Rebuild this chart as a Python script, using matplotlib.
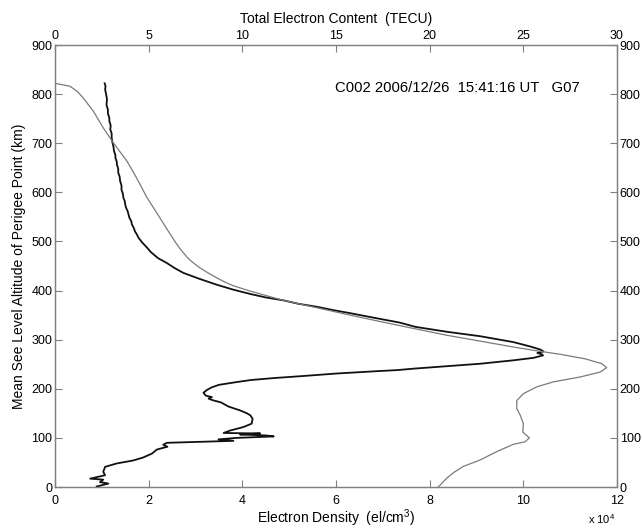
import matplotlib
matplotlib.use("Agg")
import matplotlib.pyplot as plt

plt.rcParams['font.family'] = ['Liberation Sans', 'DejaVu Sans']
plt.rcParams['mathtext.fontset'] = 'custom'
plt.rcParams['mathtext.rm'] = 'Liberation Sans'

# Electron density profile (units of 1e4 el/cm^3) vs altitude (km)
dens_alt = [822, 816, 810, 800, 790, 778, 768, 760, 752, 745, 736, 728, 720, 711, 700, 692,
            684, 676, 670, 662, 657, 648, 640, 632, 623, 614, 605, 597, 589, 582, 575,
            568, 562, 555, 548, 541, 535, 528, 520, 514, 508, 498, 488, 478, 466, 456,
            446, 436, 424, 412, 402, 393, 386, 380, 373, 367, 360, 354, 343, 335, 326,
            316, 307, 295, 286, 280, 276, 273, 270, 268, 263, 258, 251, 246, 241, 238,
            236, 231, 226, 222, 218, 214, 208, 203, 198, 192, 186, 183, 180, 177, 172,
            164, 156, 150, 146, 139, 129, 122, 115, 110, 109, 107, 105, 103, 100, 97,
            94, 90, 86, 82, 78, 76, 68, 60, 54, 48, 41, 36, 31, 24, 17, 15, 10, 7, 1]
dens_val = [1.06, 1.08, 1.07, 1.09, 1.11, 1.10, 1.13, 1.13, 1.16, 1.16, 1.19, 1.18, 1.21, 1.21, 1.23, 1.25,
            1.26, 1.29, 1.29, 1.32, 1.32, 1.35, 1.35, 1.38, 1.39, 1.42, 1.42, 1.45, 1.46, 1.49, 1.50,
            1.52, 1.55, 1.57, 1.59, 1.63, 1.64, 1.68, 1.71, 1.75, 1.78, 1.86, 1.96, 2.05, 2.20, 2.39,
            2.55, 2.74, 3.08, 3.45, 3.80, 4.17, 4.50, 4.88, 5.20, 5.59, 5.95, 6.30, 6.90, 7.35, 7.70,
            8.37, 9.08, 9.79, 10.15, 10.36, 10.43, 10.30, 10.40, 10.42, 10.22, 9.79, 9.08, 8.37, 7.66, 7.30,
            6.90, 6.00, 5.30, 4.70, 4.20, 3.90, 3.50, 3.35, 3.25, 3.17, 3.22, 3.35, 3.28, 3.36, 3.55,
            3.70, 3.95, 4.10, 4.17, 4.22, 4.20, 4.02, 3.74, 3.60, 4.38, 3.95, 4.50, 4.67, 3.88, 3.49,
            3.81, 2.39, 2.31, 2.40, 2.24, 2.17, 2.07, 1.88, 1.67, 1.32, 1.07, 1.05, 1.03, 1.07, 0.75,
            1.03, 0.96, 1.14, 0.89]

# Total electron content (TECU) vs altitude (km)
tec_alt = [822, 816, 805, 792, 765, 731, 701, 664, 640, 616, 590, 569, 548, 528, 500,
           488, 477, 468, 460, 453, 446, 436, 426, 418, 410, 399, 390, 380, 365, 350,
           339, 329, 320, 309, 297, 285, 278, 270, 261, 251, 243, 234, 224, 214, 204,
           190, 176, 160, 145, 129, 112, 100, 92, 87, 72, 55, 42, 30, 18, 0]
tec_val = [0.0, 0.8, 1.2, 1.51, 2.05, 2.58, 3.11, 3.83, 4.2, 4.54, 4.9, 5.25, 5.6, 5.93, 6.4,
           6.62, 6.85, 7.05, 7.27, 7.5, 7.74, 8.17, 8.63, 9.03, 9.5, 10.41, 11.25, 12.19, 13.97, 15.75,
           17.1, 18.35, 19.5, 20.91, 22.7, 24.47, 25.6, 27.0, 28.3, 29.2, 29.45, 29.1, 28.03, 26.6, 25.72,
           25.0, 24.65, 24.65, 24.85, 25.0, 24.97, 25.32, 25.09, 24.47, 23.58, 22.69, 21.8, 21.3, 20.91, 20.46]

dens_ticks = [0, 2, 4, 6, 8, 10, 12]
tec_ticks = [0, 5, 10, 15, 20, 25, 30]
alt_ticks = [0, 100, 200, 300, 400, 500, 600, 700, 800, 900]
annotation = "C002 2006/12/26  15:41:16 UT   G07"

fig = plt.figure(figsize=(6.42, 5.30), dpi=100)
ax = fig.add_axes([55/642, 1-487/530, 562/642, 442/530])
ax2 = ax.twiny()

spine_col = '#808080'
ax.plot(dens_val, dens_alt, color='#111111', lw=1.3, zorder=3)
ax2.plot(tec_val, tec_alt, color='#7a7a7a', lw=0.9, zorder=2)

ax.set_xlim(0, 12)
ax.set_ylim(0, 900)
ax2.set_xlim(0, 30)
ax.set_xticks(dens_ticks)
ax.set_xticklabels([str(t) for t in dens_ticks])
ax.set_yticks(alt_ticks)
ax.set_yticklabels([str(t) for t in alt_ticks])
ax2.set_xticks(tec_ticks)
ax2.set_xticklabels([str(t) for t in tec_ticks])

for a in (ax, ax2):
    for s in a.spines.values():
        s.set_color(spine_col)
        s.set_linewidth(0.9)
ax.tick_params(axis='y', direction='in', length=5, width=0.8, color=spine_col,
               labelsize=9, pad=2, right=True, labelright=True)
ax.tick_params(axis='x', direction='in', length=5, width=0.8, color=spine_col,
               labelsize=9, pad=6, top=False)
ax2.tick_params(axis='x', direction='in', length=5, width=0.8, color=spine_col,
                labelsize=9, pad=2)

ax.set_xlabel("Electron Density  (el/cm$^3$)", fontsize=10, labelpad=0)
ax2.set_xlabel("Total Electron Content  (TECU)", fontsize=10, labelpad=5)
ax.set_ylabel("Mean See Level Altitude of Perigee Point (km)", fontsize=10, labelpad=4)
fig.text(615/642, 1-519/530, "x 10$^4$", fontsize=8, ha='right', va='center')

ax.text(5.98, 812, annotation, fontsize=10.75, ha='left', va='center')

fig.savefig("out.png", dpi=100)
